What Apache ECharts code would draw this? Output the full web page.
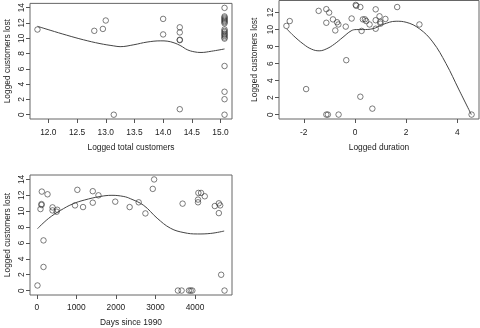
<!DOCTYPE html>
<html>
<head>
<meta charset="utf-8">
<script src="https://cdn.jsdelivr.net/npm/echarts@6/dist/echarts.min.js"></script>
<style>
html,body{margin:0;padding:0;background:#fff;}
#chart{width:480px;height:328px;}
</style>
</head>
<body>
<div id="chart"></div>
<script>
// ---- Data ----
// Panel 1: logged total customers vs logged customers lost
const totalCustomers = [11.81,12.80,12.95,13.00,13.14,14.00,14.00,14.29,14.29,14.29,14.29,14.29,
  15.07,15.07,15.07,15.07,15.07,15.07,15.07,15.07,15.07,15.07,15.07,15.07,15.07,15.07,15.07,15.07,15.07,15.07,15.07,15.07];
const lostA = [11.14,10.97,11.22,12.32,0.0,12.53,10.5,11.43,10.76,9.75,9.8,0.72,
  13.97,12.85,12.7,12.55,12.4,12.25,12.1,11.95,11.15,10.95,10.8,10.6,10.45,10.3,10.1,9.95,6.37,3.0,2.03,0.0];
const smoothAx = [11.81,12.03,12.32,12.61,12.90,13.14,13.25,13.49,13.72,13.96,14.07,14.19,14.31,14.42,14.54,14.66,14.84,15.07];
const smoothAy = [11.56,11.05,10.4,9.8,9.3,9.0,8.9,9.15,9.5,9.66,9.62,9.4,9.0,8.5,8.23,8.14,8.3,8.6];

// Panel 2: logged duration vs logged customers lost
const duration = [-2.68,-2.55,-1.42,-1.12,-1.01,-1.12,-0.86,-0.70,-0.65,-0.77,-0.36,-0.13,0.03,0.05,0.21,0.26,
  0.31,0.39,0.44,0.57,0.81,0.81,0.81,0.96,0.99,1.00,1.19,1.65,2.52,-0.34,-1.91,0.21,0.68,-1.12,-1.06,-0.64,4.56];
const lostB = [10.43,11.0,12.2,12.4,12.0,10.8,11.2,10.86,10.6,9.9,10.35,11.3,12.9,12.8,12.65,9.84,
  11.2,11.2,11.0,10.6,12.38,11.1,10.1,11.56,10.9,10.7,11.25,12.65,10.6,6.4,3.0,2.1,0.7,0,0,0,0];
const smoothBx = [-2.67,-2.41,-2.02,-1.7,-1.4,-1.1,-0.8,-0.47,-0.15,0.05,0.3,0.7,1.09,1.61,2.0,2.52,3.04,3.56,4.07,4.55];
const smoothBy = [10.1,9.3,8.3,7.7,7.5,7.75,8.3,9.1,9.85,10.0,10.0,10.1,10.6,10.98,10.86,10.1,8.55,6.0,2.9,0];

// Panel 3: days since 1990 vs logged customers lost
const days = [17,93,119,119,127,169,169,271,398,398,517,500,966,1025,1169,1415,1415,1559,1983,2347,2576,2746,
  2932,2966,3568,3661,3686,3847,3890,3932,4076,4076,4085,4153,4246,4500,4602,4636,4602,4661,4746];
const lostC = [0.64,10.27,10.78,10.9,12.47,6.32,2.97,12.13,10.48,10.1,10.18,9.93,10.73,12.69,10.52,12.52,11.07,12.0,11.2,10.52,11.12,9.72,
  12.81,14.0,0,0,10.95,0,0,0,11.12,11.46,12.3,12.3,11.88,10.65,10.99,10.73,9.76,1.99,0];
const smoothCx = [17,300,600,900,1200,1600,1900,2200,2364,2703,3042,3381,3720,4059,4398,4737];
const smoothCy = [7.8,9.1,10.1,10.9,11.4,11.85,12.0,11.85,11.58,10.73,9.12,7.85,7.3,7.13,7.2,7.5];

// Tick labels
const ticksA_x = [12.0,12.5,13.0,13.5,14.0,14.5,15.0];
const ticksA_y = [0,2,4,6,8,10,12,14];
const ticksB_x = [-2,0,2,4];
const ticksB_y = [0,2,4,6,8,10,12];
const ticksC_x = [0,1000,2000,3000,4000];
const ticksC_y = [0,2,4,6,8,10,12,14];

const xTitleA = 'Logged total customers';
const xTitleB = 'Logged duration';
const xTitleC = 'Days since 1990';
const yTitle = 'Logged customers lost';

// ---- Build ----
const FONT = '"Liberation Sans", Arial, Helvetica, sans-serif';
const TXT = '#222';
const FS = 8.4;
const zip = (a, b) => a.map((v, i) => [v, b[i]]);

function xAxisCfg(gi, min, max, ticks, fmt, name, gap, margin) {
  return {
    type: 'value', gridIndex: gi, min: min, max: max, position: 'bottom',
    name: name, nameLocation: 'middle', nameGap: gap,
    nameTextStyle: {color: TXT, fontFamily: FONT, fontSize: FS},
    axisLine: {show: false, onZero: false},
    splitLine: {show: false},
    axisTick: {show: true, length: 4, customValues: ticks, lineStyle: {color: '#555', width: 1}},
    axisLabel: {customValues: ticks, formatter: fmt, margin: margin, color: TXT, fontFamily: FONT, fontSize: FS}
  };
}
function yAxisCfg(gi, min, max, ticks, name, gap) {
  return {
    type: 'value', gridIndex: gi, min: min, max: max, position: 'left',
    name: name, nameLocation: 'middle', nameGap: gap,
    nameTextStyle: {color: TXT, fontFamily: FONT, fontSize: FS},
    axisLine: {show: false, onZero: false},
    splitLine: {show: false},
    axisTick: {show: true, length: 4, customValues: ticks, lineStyle: {color: '#555', width: 1}},
    axisLabel: {customValues: ticks, rotate: 90, margin: 4, color: TXT, fontFamily: FONT, fontSize: FS}
  };
}
function scatter(gi, data) {
  return {
    type: 'scatter', xAxisIndex: gi, yAxisIndex: gi, data: data,
    symbol: 'circle', symbolSize: 5.5,
    itemStyle: {color: 'rgba(0,0,0,0)', borderColor: '#333', borderWidth: 0.8},
    emphasis: {disabled: true}, silent: true
  };
}
function curve(gi, data) {
  return {
    type: 'line', xAxisIndex: gi, yAxisIndex: gi, data: data,
    showSymbol: false, smooth: 0.4,
    lineStyle: {color: '#444', width: 1},
    emphasis: {disabled: true}, silent: true
  };
}

const gridStyle = {show: true, borderColor: '#666', borderWidth: 1, backgroundColor: 'transparent'};
const option = {
  animation: false,
  backgroundColor: '#fff',
  grid: [
    Object.assign({left: 30, top: 0.5, width: 202, height: 118.5}, gridStyle),
    Object.assign({left: 279, top: 0.5, width: 200, height: 118.5}, gridStyle),
    Object.assign({left: 30, top: 175, width: 202, height: 120}, gridStyle)
  ],
  xAxis: [
    xAxisCfg(0, 11.68, 15.20, ticksA_x, v => v.toFixed(1), xTitleA, 25, 10),
    xAxisCfg(1, -2.97, 4.85, ticksB_x, v => String(v), xTitleB, 25, 10),
    xAxisCfg(2, -172, 4935, ticksC_x, v => String(v), xTitleC, 24, 9)
  ],
  yAxis: [
    yAxisCfg(0, -0.56, 14.56, ticksA_y, yTitle, 18),
    yAxisCfg(1, -0.52, 13.42, ticksB_y, yTitle, 20),
    yAxisCfg(2, -0.56, 14.56, ticksC_y, yTitle, 18)
  ],
  series: [
    scatter(0, zip(totalCustomers, lostA)),
    curve(0, zip(smoothAx, smoothAy)),
    scatter(1, zip(duration, lostB)),
    curve(1, zip(smoothBx, smoothBy)),
    scatter(2, zip(days, lostC)),
    curve(2, zip(smoothCx, smoothCy))
  ]
};
const chart = echarts.init(document.getElementById('chart'), null, {renderer: 'canvas'});
chart.setOption(option);
</script>
</body>
</html>
